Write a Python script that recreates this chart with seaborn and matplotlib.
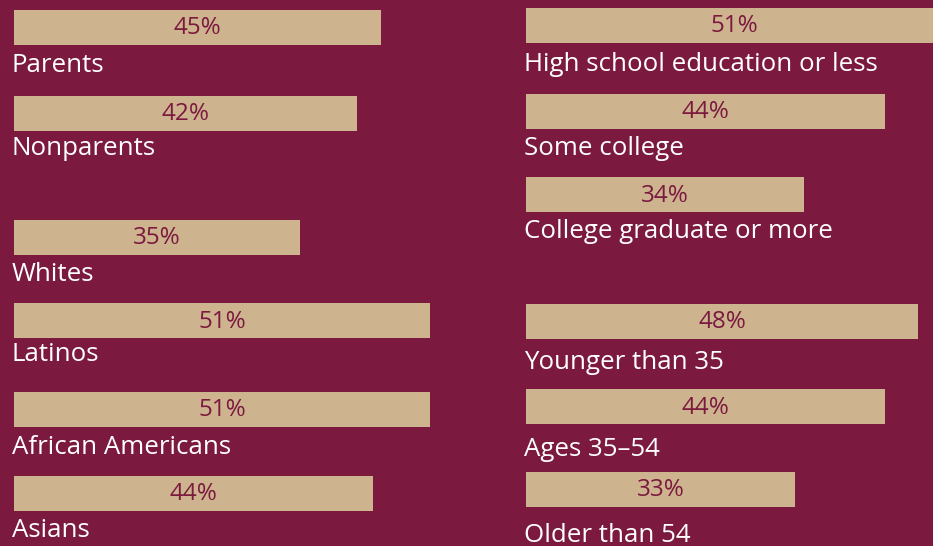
import matplotlib
matplotlib.use("Agg")
import matplotlib.pyplot as plt
import seaborn as sns
import pandas as pd

# data
left_labels = ["Parents", "Nonparents", "Whites", "Latinos", "African Americans", "Asians"]
left_values = [45, 42, 35, 51, 51, 44]
right_labels = ["High school education or less", "Some college", "College graduate or more",
                "Younger than 35", "Ages 35\u201354", "Older than 54"]
right_values = [51, 44, 34, 48, 44, 33]

# layout (pixels from top of the 933x546 canvas)
left_centers = [27.5, 113.5, 237.5, 320.5, 409.5, 493.5]
left_baselines = [72, 155, 281, 361, 454, 537]
right_centers = [25.5, 111.5, 194.5, 321.5, 406.5, 489.5]
right_baselines = [71, 155, 238, 369, 456, 542]

BG = "#7B193F"
TAN = "#CEB38F"
W, H = 933, 546
PX_PER_PCT = 8.165
BAR_H = 35

sns.set_theme(style="white")
plt.rcParams["font.family"] = ["Open Sans", "DejaVu Sans"]


def draw_column(fig, x0, width, labels, values, centers, baselines):
    ax = fig.add_axes([x0 / W, 0, width / W, 1])
    ax.set_facecolor(BG)
    df = pd.DataFrame({"value": values, "pos": centers})
    min_gap = min(b - a for a, b in zip(sorted(centers), sorted(centers)[1:]))
    sns.barplot(data=df, x="value", y="pos", orient="h", native_scale=True,
                width=BAR_H / min_gap, color=TAN, saturation=1, linewidth=0, ax=ax)
    ax.set_xlim(0, width / PX_PER_PCT)
    ax.set_ylim(H, 0)
    for v, c in zip(values, centers):
        ax.text(v / 2, c + 1, f"{v}%", ha="center", va="center",
                color=BG, fontsize=17.5)
    for lab, b in zip(labels, baselines):
        ax.text(-2 / PX_PER_PCT, b, lab, ha="left", va="baseline",
                color="white", fontsize=18.6)
    ax.axis("off")
    return ax


fig = plt.figure(figsize=(W / 100, H / 100), dpi=100, facecolor=BG)
draw_column(fig, 14, 512, left_labels, left_values, left_centers, left_baselines)
draw_column(fig, 526, 407, right_labels, right_values, right_centers, right_baselines)
fig.savefig("out.png", dpi=100, facecolor=BG)
